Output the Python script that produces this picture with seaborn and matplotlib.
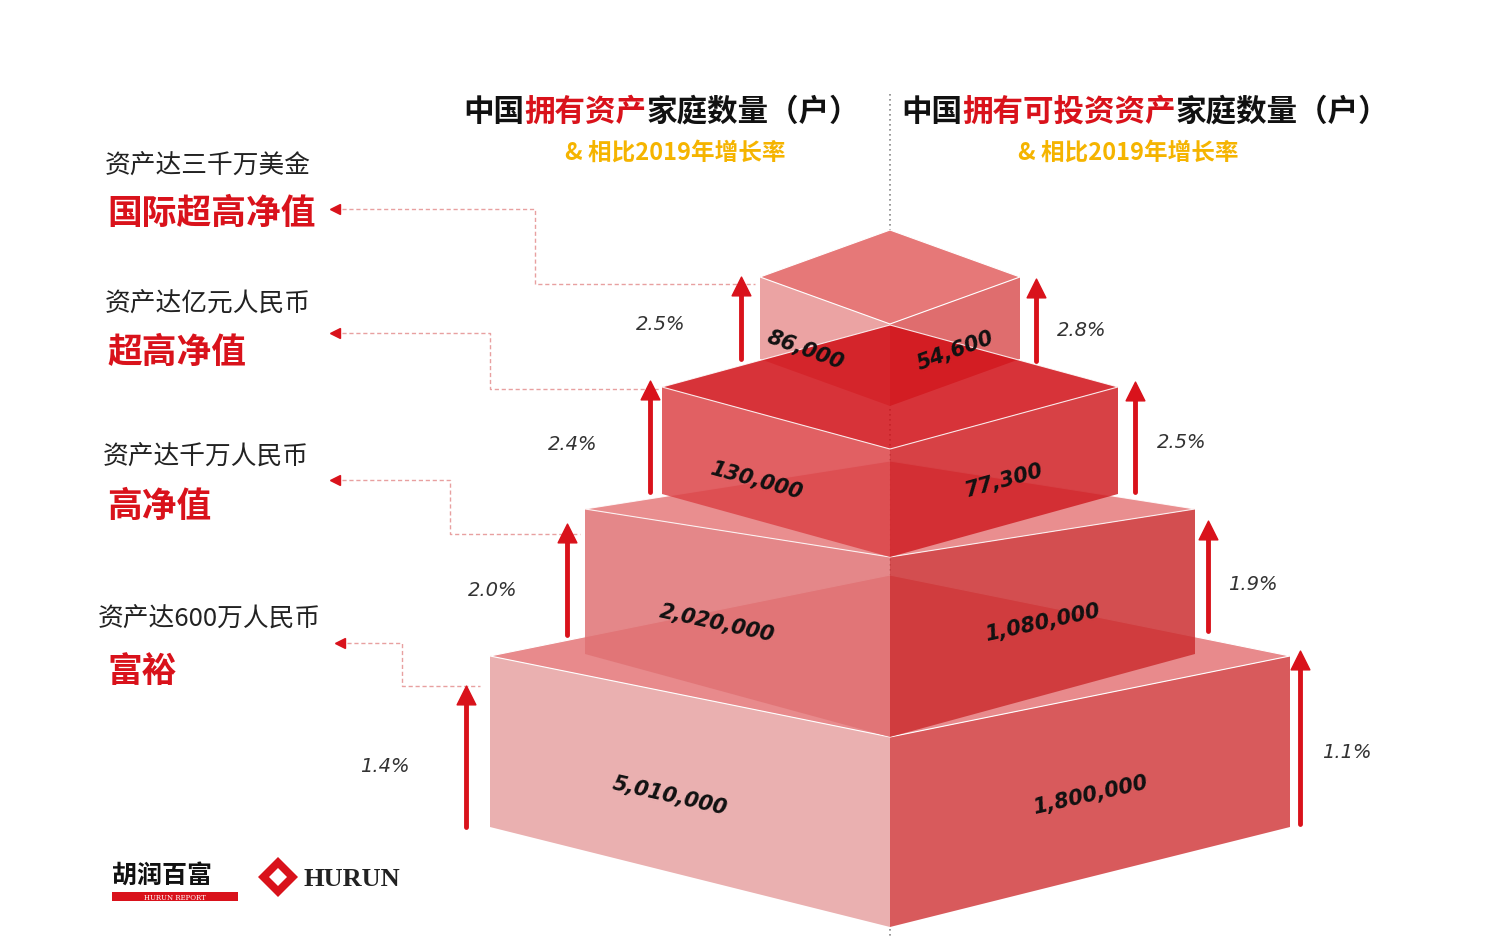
import numpy as np
import matplotlib
matplotlib.use("Agg")
import matplotlib.pyplot as plt
import seaborn as sns
from matplotlib.patches import Polygon

# ---- data ----
tier_names = ["富裕", "高净值", "超高净值", "国际超高净值"]
tier_subs = ["资产达600万人民币", "资产达千万人民币", "资产达亿元人民币", "资产达三千万美金"]
households = [5010000, 2020000, 130000, 86000]
investable = [1800000, 1080000, 77300, 54600]
growth_all = [1.4, 2.0, 2.4, 2.5]
growth_inv = [1.1, 1.9, 2.5, 2.8]

# ---- style / geometry ----
sns.set_theme(style="white")
CJK = "Noto Sans CJK SC"
plt.rcParams["font.family"] = [CJK, "DejaVu Sans"]
RED = "#d9121b"
CX = 890
half_w = [400, 305, 228, 130]
top_c = [738, 558, 450, 325]
height = [190, 180, 108, 82]
dy_top = [81, 48, 62, 47]
dy_bot = [100, 83, 63, 47]
col_left = ["#eab0b0", "#e07274", "#dc4448", "#eba3a3"]
col_right = ["#d85a5c", "#cc2f31", "#d01f24", "#df6d6e"]
col_top = ["#e88a8c", "#e67a7c", "#d10f16", "#e67878"]
alphas = [1.0, 0.85, 0.85, 1.0]

fig = plt.figure(figsize=(15.03, 9.45), dpi=100)
ax = fig.add_axes([0, 0, 1, 1])
ax.set_xlim(0, 1503)
ax.set_ylim(945, 0)
ax.axis("off")

ax.plot([CX, CX], [95, 940], ls=(0, (1, 2)), color="#888888", lw=1.2, zorder=0)

order = [0, 1, 3, 2]
for k, i in enumerate(order):
    w, ct, h = half_w[i], top_c[i], height[i]
    cb = ct + h
    L, R = CX - w, CX + w
    z = 2 + k
    top = Polygon([(L, ct - dy_top[i]), (CX, ct), (R, ct - dy_top[i]), (CX, ct - 2 * dy_top[i])],
                  closed=True, fc=col_top[i], ec="white", lw=0.8, alpha=alphas[i], zorder=z)
    left = Polygon([(L, ct - dy_top[i]), (CX, ct), (CX, cb), (L, cb - dy_bot[i])],
                   closed=True, fc=col_left[i], ec="none", alpha=alphas[i], zorder=z)
    right = Polygon([(R, ct - dy_top[i]), (CX, ct), (CX, cb), (R, cb - dy_bot[i])],
                    closed=True, fc=col_right[i], ec="none", alpha=alphas[i], zorder=z)
    for p in (left, right, top):
        ax.add_patch(p)

# numbers on faces
for i in range(4):
    w, ct, h = half_w[i], top_c[i], height[i]
    slope = (dy_top[i] + dy_bot[i]) / 2 / w
    ang = np.degrees(np.arctan(slope))
    ymid = ct + h / 2 - (dy_top[i] + dy_bot[i]) / 4
    ax.text(CX - w / 2 - 20, ymid + 8, f"{households[i]:,}", rotation=-ang, ha="center", va="center",
            fontsize=15, fontweight="bold", fontstyle="italic", family="DejaVu Sans", color="#111", zorder=20)
    ax.text(CX + w / 2, ymid + 8, f"{investable[i]:,}", rotation=ang, ha="center", va="center",
            fontsize=15, fontweight="bold", fontstyle="italic", family="DejaVu Sans", color="#111", zorder=20)

# growth arrows
la_x = [466, 567, 650, 741]; la_y = [(828, 700), (636, 538), (493, 395), (360, 291)]
ra_x = [1300, 1208, 1135, 1036]; ra_y = [(825, 665), (632, 535), (493, 396), (362, 293)]
lp = [(385, 767), (493, 591), (573, 444), (661, 324)]
rp = [(1347, 752), (1253, 584), (1182, 442), (1082, 330)]
heads_x, heads_y = [], []
for i in range(4):
    ax.plot([la_x[i]] * 2, la_y[i], color=RED, lw=3.5, zorder=25)
    ax.plot([ra_x[i]] * 2, ra_y[i], color=RED, lw=3.5, zorder=25)
    heads_x += [la_x[i], ra_x[i]]; heads_y += [la_y[i][1] - 4, ra_y[i][1] - 4]
    ax.text(*lp[i], f"{growth_all[i]}%", ha="center", va="center", fontsize=14,
            fontstyle="italic", family="DejaVu Sans", color="#333")
    ax.text(*rp[i], f"{growth_inv[i]}%", ha="center", va="center", fontsize=14,
            fontstyle="italic", family="DejaVu Sans", color="#333")
sns.scatterplot(x=heads_x, y=heads_y, marker="^", s=180, color=RED, edgecolor=RED, ax=ax, zorder=26, legend=False)
ax.set_xlim(0, 1503); ax.set_ylim(945, 0)

# left labels with connectors
sub_y = [620, 458, 305, 167]
main_y = [671, 506, 352, 213]
sub_x = [98, 103, 105, 105]
conn = [[(340, 644), (402, 644), (402, 687), (480, 687)],
        [(335, 481), (450, 481), (450, 535), (580, 535)],
        [(335, 334), (490, 334), (490, 390), (660, 390)],
        [(335, 210), (535, 210), (535, 285), (755, 285)]]
for i in range(4):
    ax.text(sub_x[i], sub_y[i], tier_subs[i], ha="left", va="center", fontsize=18.5, color="#222")
    ax.text(107, main_y[i], tier_names[i], ha="left", va="center", fontsize=25, fontweight="bold", color=RED)
    xs, ys = zip(*conn[i])
    ax.plot(xs, ys, ls=(0, (3, 2)), color="#e8a0a0", lw=1, zorder=1)
    ax.plot(xs[0], ys[0], marker="<", ms=7, color=RED, zorder=1)

# headers
def multi(x, y, parts, size):
    fig.canvas.draw()
    r = fig.canvas.get_renderer()
    texts = []
    for s, c in parts:
        t = ax.text(x, y, s, fontsize=size, fontweight="bold", color=c, ha="left", va="center")
        texts.append(t)
    total = sum(t.get_window_extent(r).width for t in texts)
    cur = x - total / 2
    for t in texts:
        t.set_x(cur)
        cur += t.get_window_extent(r).width
multi(662, 112, [("中国", "#111"), ("拥有资产", RED), ("家庭数量（户）", "#111")], 22)
multi(1145, 112, [("中国", "#111"), ("拥有可投资资产", RED), ("家庭数量（户）", "#111")], 22)
for x in (675, 1128):
    ax.text(x, 153, "& 相比2019年增长率", ha="center", va="center", fontsize=17,
            fontstyle="italic", fontweight="bold", color="#f5b400")

# logo
ax.text(112, 876, "胡润百富", ha="left", va="center", fontsize=18, fontweight="bold", color="#111")
ax.add_patch(Polygon([(112, 893), (238, 893), (238, 902), (112, 902)], fc=RED, ec="none"))
ax.text(175, 898, "HURUN REPORT", ha="center", va="center", fontsize=5, color="white", family="DejaVu Serif")
ax.add_patch(Polygon([(278, 858), (298, 878), (278, 898), (258, 878)], fc=RED, ec="none"))
ax.add_patch(Polygon([(278, 869), (287, 878), (278, 887), (269, 878)], fc="white", ec="none"))
ax.text(304, 880, "HURUN", ha="left", va="center", fontsize=19, fontweight="bold",
        family="Liberation Serif", color="#222")

fig.savefig("out.png", dpi=100, facecolor="white")
